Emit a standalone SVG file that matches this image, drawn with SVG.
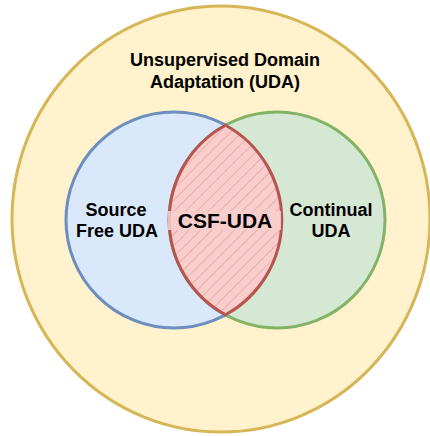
<svg xmlns="http://www.w3.org/2000/svg" width="430" height="436" viewBox="0 0 430 436">
<style>
text{font-family:"Liberation Sans",Arial,sans-serif;font-weight:bold;fill:#000;text-anchor:middle}
.t{font-size:18px}
.c{font-size:21px}
</style>
<defs>
<pattern id="hatch" patternUnits="userSpaceOnUse" width="8" height="8" patternTransform="rotate(45)">
<rect width="8" height="8" fill="#f8cecc"/>
<line x1="0" y1="0" x2="0" y2="8" stroke="#e08a87" stroke-width="1"/>
</pattern>
<clipPath id="blueClip"><circle cx="174" cy="220" r="108"/></clipPath>
</defs>
<rect width="430" height="436" fill="#ffffff"/>
<g id="uda">
<ellipse cx="221" cy="219" rx="209" ry="213" fill="#fff2cc" stroke="#d6b656" stroke-width="3"/>
<text class="t" x="225" y="66">Unsupervised Domain</text>
<text class="t" x="225" y="88">Adaptation (UDA)</text>
</g>
<g id="sfuda">
<circle cx="174" cy="220" r="108" fill="#dae8fc" stroke="#6c8ebf" stroke-width="3"/>
</g>
<g id="cuda">
<circle cx="277" cy="220" r="108" fill="#d5e8d4" stroke="#82b366" stroke-width="3"/>
</g>
<g id="csfuda">
<path d="M225.5,125.2 A108,108 0 0 1 225.5,314.8 A108,108 0 0 1 225.5,125.2 Z" fill="url(#hatch)" stroke="#b85450" stroke-width="3" stroke-linejoin="round"/>
<rect x="168" y="211" width="113" height="19" fill="#f8cecc" fill-opacity="0.85"/>
<text class="c" x="225" y="228">CSF-UDA</text>
</g>
<g id="labels">
<text class="t" x="116" y="216">Source</text>
<text class="t" x="117" y="237">Free UDA</text>
<text class="t" x="331" y="216">Continual</text>
<text class="t" x="331" y="237">UDA</text>
</g>
<g id="connectors"></g>
</svg>
